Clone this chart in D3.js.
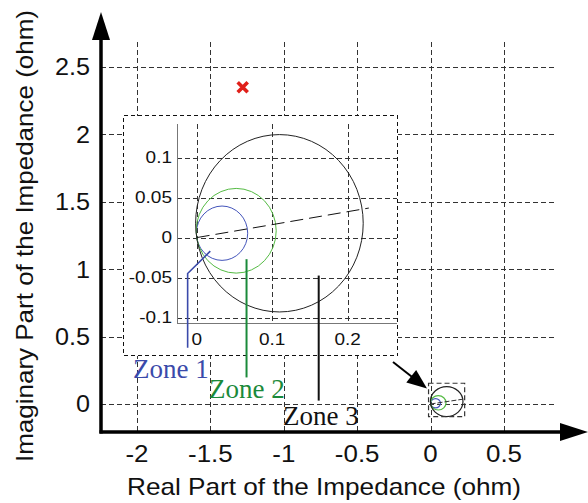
<!DOCTYPE html>
<html>
<head>
<meta charset="utf-8">
<script src="https://cdn.jsdelivr.net/npm/d3@7"></script>
<style>
  html, body { margin: 0; padding: 0; background: #fff; }
  svg { display: block; }
</style>
</head>
<body>
<svg id="chart" width="588" height="503"></svg>
<script>
// ---- data ----
const mainXTicks = [-2, -1.5, -1, -0.5, 0, 0.5];
const mainYTicks = [0, 0.5, 1, 1.5, 2, 2.5];
const insetXTicks = [0, 0.1, 0.2];
const insetYTicks = [-0.1, -0.05, 0, 0.05, 0.1];

// mho zones: reach (ohm) along the characteristic angle
const zoneNames = ["Zone 1", "Zone 2", "Zone 3"];
const zoneReach = [0.068, 0.106, 0.222];
const zoneColors = ["#4455bb", "#55bb44", "#222222"];
const lineColors = ["#3a4aaa", "#1a8a3a", "#111111"];
const lineAngleDeg = 9.3;
const lineEnd = [0.228, 0.037];

// measured impedance point
const faultPoint = [-1.28, 2.35];

// region of the main plane shown in the zoomed inset
const zoomBox = { x0: -0.014, x1: 0.232, y0: -0.094, y1: 0.154 };

// leader lines from each zone to its label (inset coordinates)
const leader1 = [[0.018, -0.017], [-0.012, -0.045], [-0.012, -0.138]];
const leader2 = [[0.066, -0.027], [0.066, -0.175]];
const leader3 = [[0.1616, -0.0475], [0.1616, -0.204]];

// ---- scales ----
const svg = d3.select("#chart");
const x = d3.scaleLinear().domain([-2, 0.5]).range([137, 504]);
const y = d3.scaleLinear().domain([0, 2.5]).range([404, 67]);
const xi = d3.scaleLinear().domain([0, 0.2]).range([196.7, 347.7]);
const yi = d3.scaleLinear().domain([-0.1, 0.1]).range([317.5, 157.7]);

const plot = { left: 101, right: 556, top: 42, bottom: 432 };
const gridColor = "#333";
const sans = "'Liberation Sans', Arial, sans-serif";
const fmt = d => String(d);

// widen sans-serif glyph runs slightly
function widen(sel, factor) {
  sel.each(function () {
    const len = this.getComputedTextLength();
    d3.select(this).attr("textLength", len * factor).attr("lengthAdjust", "spacingAndGlyphs");
  });
}

// ---- main grid ----
const grid = svg.append("g").attr("stroke", gridColor).attr("stroke-width", 1.2)
  .attr("stroke-dasharray", "5,3").attr("shape-rendering", "crispEdges");
grid.selectAll("line.v").data(mainXTicks).join("line")
  .attr("x1", d => Math.round(x(d)) + 0.5).attr("x2", d => Math.round(x(d)) + 0.5)
  .attr("y1", plot.top).attr("y2", plot.bottom);
grid.selectAll("line.h").data(mainYTicks).join("line")
  .attr("x1", plot.left).attr("x2", plot.right)
  .attr("y1", d => Math.round(y(d)) + 0.5).attr("y2", d => Math.round(y(d)) + 0.5);

// ---- main tick labels ----
const xt = svg.append("g").selectAll("text").data(mainXTicks).join("text")
  .attr("x", d => x(d)).attr("y", 462)
  .attr("text-anchor", "middle")
  .style("font", `24px ${sans}`).attr("fill", "#111")
  .text(fmt);
widen(xt, 1.08);
const yt = svg.append("g").selectAll("text").data(mainYTicks).join("text")
  .attr("x", 90).attr("y", d => y(d)).attr("dy", "0.35em")
  .attr("text-anchor", "end")
  .style("font", `24px ${sans}`).attr("fill", "#111")
  .text(fmt);
widen(yt, 1.05);

// ---- axis titles ----
svg.append("text")
  .attr("x", 324).attr("y", 495)
  .attr("text-anchor", "middle")
  .style("font", `24px ${sans}`).attr("fill", "#111")
  .attr("textLength", 394).attr("lengthAdjust", "spacingAndGlyphs")
  .text("Real Part of the Impedance (ohm)");
svg.append("text")
  .attr("transform", "translate(33,236) rotate(-90)")
  .attr("text-anchor", "middle")
  .style("font", `24px ${sans}`).attr("fill", "#111")
  .attr("textLength", 452).attr("lengthAdjust", "spacingAndGlyphs")
  .text("Imaginary Part of the Impedance (ohm)");

// ---- fault impedance marker ----
const fx = x(faultPoint[0]), fy = y(faultPoint[1]);
svg.append("path")
  .attr("d", `M${fx - 5},${fy - 5}L${fx + 5},${fy + 5}M${fx - 5},${fy + 5}L${fx + 5},${fy - 5}`)
  .attr("stroke", "#e0201a").attr("stroke-width", 3.6);

// ---- zone circles in the main plane ----
const ang = lineAngleDeg * Math.PI / 180;
function drawZones(g, sx, sy, width) {
  zoneReach.forEach((r, i) => {
    const cx = r / 2 * Math.cos(ang), cy = r / 2 * Math.sin(ang);
    g.append("ellipse")
      .attr("cx", sx(cx)).attr("cy", sy(cy))
      .attr("rx", Math.abs(sx(r / 2) - sx(0))).attr("ry", Math.abs(sy(0) - sy(r / 2)))
      .attr("fill", "none").attr("stroke", zoneColors[i]).attr("stroke-width", width);
  });
}
const small = svg.append("g");
drawZones(small, x, y, 1.2);
small.append("line")
  .attr("x1", x(0)).attr("y1", y(0)).attr("x2", x(lineEnd[0])).attr("y2", y(lineEnd[1]))
  .attr("stroke", "#333").attr("stroke-width", 1).attr("stroke-dasharray", "5,2");
small.append("rect")
  .attr("x", x(zoomBox.x0)).attr("y", y(zoomBox.y1))
  .attr("width", x(zoomBox.x1) - x(zoomBox.x0)).attr("height", y(zoomBox.y0) - y(zoomBox.y1))
  .attr("fill", "none").attr("stroke", gridColor).attr("stroke-width", 1.2)
  .attr("stroke-dasharray", "5,3");

// ---- inset ----
const inset = { left: 123, right: 397, top: 115, bottom: 355 };
const ins = svg.append("g");
ins.append("rect")
  .attr("x", inset.left + 0.5).attr("y", inset.top + 0.5)
  .attr("width", inset.right - inset.left).attr("height", inset.bottom - inset.top)
  .attr("fill", "#fff").attr("stroke", "#111").attr("stroke-width", 1)
  .attr("stroke-dasharray", "4,3").attr("shape-rendering", "crispEdges");

const iplot = { left: 177, right: 397, top: 124, bottom: 323 };
const igrid = ins.append("g").attr("stroke", gridColor).attr("stroke-width", 1.1)
  .attr("stroke-dasharray", "5,3").attr("shape-rendering", "crispEdges");
igrid.selectAll("line.v").data(insetXTicks).join("line")
  .attr("x1", d => Math.round(xi(d)) + 0.5).attr("x2", d => Math.round(xi(d)) + 0.5)
  .attr("y1", iplot.top).attr("y2", iplot.bottom);
igrid.selectAll("line.h").data(insetYTicks).join("line")
  .attr("x1", iplot.left).attr("x2", iplot.right)
  .attr("y1", d => Math.round(yi(d)) + 0.5).attr("y2", d => Math.round(yi(d)) + 0.5);

// inset axis lines
ins.append("path")
  .attr("d", `M${iplot.left + 0.5},${iplot.top}V${iplot.bottom + 0.5}H${iplot.right}`)
  .attr("fill", "none").attr("stroke", "#777").attr("stroke-width", 1.5)
  .attr("shape-rendering", "crispEdges");

const ixt = ins.append("g").selectAll("text").data(insetXTicks).join("text")
  .attr("x", d => xi(d)).attr("y", 345)
  .attr("text-anchor", "middle")
  .style("font", `16.5px ${sans}`).attr("fill", "#111")
  .text(fmt);
widen(ixt, 1.15);
const iyt = ins.append("g").selectAll("text").data(insetYTicks).join("text")
  .attr("x", 172).attr("y", d => yi(d)).attr("dy", "0.35em")
  .attr("text-anchor", "end")
  .style("font", `16.5px ${sans}`).attr("fill", "#111")
  .text(fmt);
widen(iyt, 1.15);

drawZones(ins, xi, yi, 1);
ins.append("line")
  .attr("x1", xi(0)).attr("y1", yi(0)).attr("x2", xi(lineEnd[0])).attr("y2", yi(lineEnd[1]))
  .attr("stroke", "#111").attr("stroke-width", 1).attr("stroke-dasharray", "13,6");

// ---- zone leaders and labels ----
const lineGen = d3.line().x(d => xi(d[0])).y(d => yi(d[1]));
[leader1, leader2, leader3].forEach((pts, i) => {
  svg.append("path").attr("d", lineGen(pts))
    .attr("fill", "none").attr("stroke", lineColors[i]).attr("stroke-width", i === 0 ? 1.6 : 2);
});
const labelPos = [[133, 378], [209, 398], [283, 425]];
svg.append("g").selectAll("text").data(zoneNames).join("text")
  .attr("x", (d, i) => labelPos[i][0]).attr("y", (d, i) => labelPos[i][1])
  .style("font", "27px 'Liberation Serif', 'Times New Roman', serif")
  .attr("fill", (d, i) => lineColors[i])
  .text(d => d);

// ---- pointer arrow from inset to the zoomed region ----
const ax0 = 393, ay0 = 362, ax1 = 427, ay1 = 388.5;
const alen = Math.hypot(ax1 - ax0, ay1 - ay0);
const ux = (ax1 - ax0) / alen, uy = (ay1 - ay0) / alen;
svg.append("line")
  .attr("x1", ax0).attr("y1", ay0).attr("x2", ax1 - ux * 16).attr("y2", ay1 - uy * 16)
  .attr("stroke", "#000").attr("stroke-width", 2);
svg.append("path")
  .attr("d", `M${ax1},${ay1}L${ax1 - ux * 20 - uy * 8},${ay1 - uy * 20 + ux * 8}L${ax1 - ux * 20 + uy * 8},${ay1 - uy * 20 - ux * 8}Z`)
  .attr("fill", "#000");

// ---- main axes with arrowheads ----
svg.append("line")
  .attr("x1", plot.left).attr("y1", plot.bottom + 1.5).attr("x2", plot.left).attr("y2", 38)
  .attr("stroke", "#000").attr("stroke-width", 3.5);
svg.append("path")
  .attr("d", `M${plot.left},12L${plot.left + 9},40L${plot.left - 9},40Z`).attr("fill", "#000");
svg.append("line")
  .attr("x1", plot.left - 1.5).attr("y1", plot.bottom).attr("x2", 562).attr("y2", plot.bottom)
  .attr("stroke", "#000").attr("stroke-width", 3.5);
svg.append("path")
  .attr("d", `M588,${plot.bottom}L560,${plot.bottom - 9}L560,${plot.bottom + 9}Z`).attr("fill", "#000");
</script>
</body>
</html>
